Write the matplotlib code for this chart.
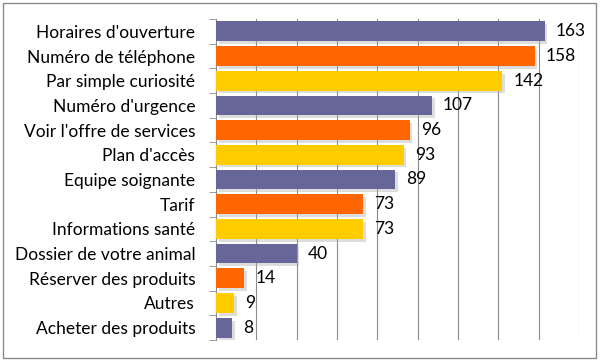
import matplotlib.pyplot as plt
import matplotlib.patheffects as pe
from matplotlib.patches import Rectangle
import numpy as np

categories = ["Horaires d'ouverture", "Numéro de téléphone", "Par simple curiosité",
              "Numéro d'urgence", "Voir l'offre de services", "Plan d'accès",
              "Equipe soignante", "Tarif", "Informations santé",
              "Dossier de votre animal", "Réserver des produits", "Autres",
              "Acheter des produits"]
values = [163, 158, 142, 107, 96, 93, 89, 73, 73, 40, 14, 9, 8]
palette = ['#666699', '#FF6600', '#FFCC00']

plt.rcParams['font.family'] = ['Lato', 'DejaVu Sans']

fig = plt.figure(figsize=(6, 3.61), dpi=100)
ax = fig.add_axes([216 / 600, 1 - 340 / 361, 363 / 600, 321 / 361])

y = np.arange(len(categories))
colors = [palette[i % 3] for i in range(len(categories))]
bars = ax.barh(y, values, height=0.8, color=colors, zorder=3)
for b in bars:
    b.set_path_effects([pe.SimplePatchShadow(offset=(2, -2), shadow_rgbFace='#aaaaaa', alpha=0.4),
                        pe.Normal()])

for yi, v in zip(y, values):
    ax.annotate(str(v), (v, yi), xytext=(8, 0), textcoords='offset points',
                va='center', ha='left', fontsize=12.5, color='black')

ax.set_xlim(0, 180)
ax.set_ylim(len(categories) - 0.5, -0.5)
ax.set_xticks(np.arange(20, 181, 20))
ax.xaxis.grid(True, color='#8c8c8c', linewidth=0.8, zorder=0)
ax.tick_params(axis='x', length=0, labelbottom=False)

ax.set_yticks(y)
ax.set_yticklabels(categories, fontsize=12.5)
ax.set_yticks(np.arange(-0.5, len(categories), 1), minor=True)
ax.tick_params(axis='y', which='major', length=0, pad=15)
ax.tick_params(axis='y', which='minor', length=5, color='#8c8c8c', direction='out')

for s in ['top', 'right', 'bottom']:
    ax.spines[s].set_visible(False)
ax.spines['left'].set_color('#8c8c8c')

fig.patches.append(Rectangle((3 / 600, 3 / 361), 593 / 600, 355 / 361,
                             transform=fig.transFigure, fill=False,
                             edgecolor='#8c8c8c', linewidth=1))

fig.savefig('out.png', dpi=100)
